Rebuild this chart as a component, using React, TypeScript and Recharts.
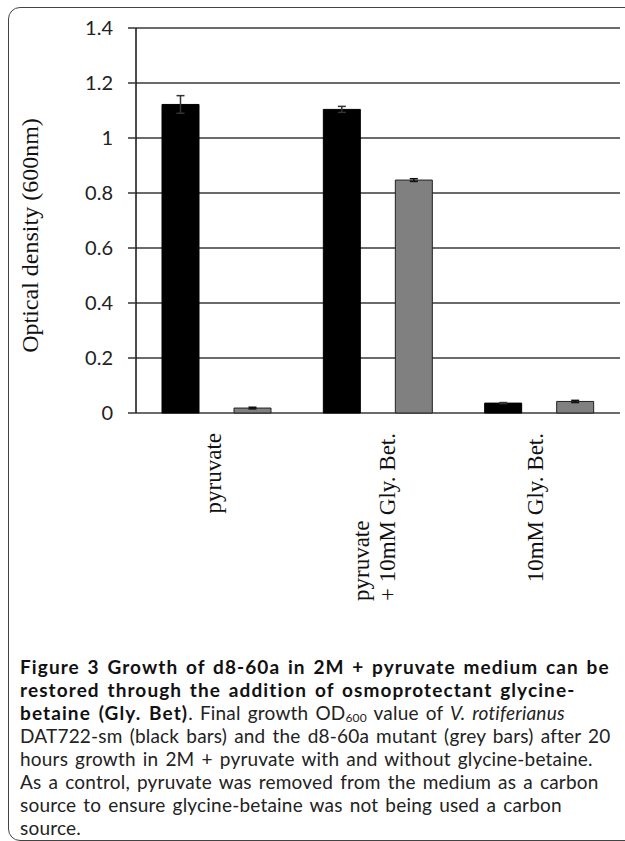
import { BarChart, Bar, XAxis, YAxis, CartesianGrid, ErrorBar } from "recharts";

// category labels, one entry per printed line
const categories = [["pyruvate"], ["pyruvate", "+ 10mM Gly. Bet."], ["10mM Gly. Bet."]];
// DAT722-sm (black bars)
const wildType = [1.122, 1.104, 0.036];
const wildTypeErr = [0.032, 0.011, 0.002];
// d8-60a mutant (grey bars)
const mutant = [0.018, 0.847, 0.042];
const mutantErr = [0.003, 0.005, 0.004];
const yTicks = [0, 0.2, 0.4, 0.6, 0.8, 1, 1.2, 1.4];
const edgeTicks = [0, 1, 2, 3];

const data = categories.map((lines, i) => ({
  name: lines.join("\n"),
  edge: i + 0.5,
  wt: wildType[i],
  wtErr: wildTypeErr[i],
  mut: mutant[i],
  mutErr: mutantErr[i],
}));

const SERIF = '"Liberation Serif", "Times New Roman", serif';
const LABEL_SIZE = 23;

let ctx: CanvasRenderingContext2D | null = null;
const measure = (s: string) => {
  if (!ctx) ctx = document.createElement("canvas").getContext("2d");
  if (!ctx) return s.length * LABEL_SIZE * 0.45;
  ctx.font = `${LABEL_SIZE}px "Liberation Serif"`;
  return ctx.measureText(s).width;
};

// rotated category label, lines left-aligned, block ends just under the axis
const XLabel = ({ x, y, payload }: any) => {
  const lines = String(payload.value).split("\n");
  const maxW = Math.max(...lines.map(measure));
  const lh = 26;
  return (
    <g transform={`translate(${x},${y + 20}) rotate(-90)`}>
      {lines.map((l, i) => (
        <text
          key={i}
          x={-maxW}
          y={(i - (lines.length - 1) / 2) * lh + 4}
          textAnchor="start"
          fontFamily={SERIF}
          fontSize={LABEL_SIZE}
          fill="#111"
        >
          {l}
        </text>
      ))}
    </g>
  );
};

const YTitle = ({ viewBox }: any) => {
  const vb = viewBox || { x: 0, y: 28, width: 136, height: 385 };
  const cx = vb.x + 38;
  const cy = vb.y + vb.height / 2 + 15;
  return (
    <text
      transform={`translate(${cx},${cy}) rotate(-90)`}
      textAnchor="middle"
      fontFamily={SERIF}
      fontSize={24}
      fill="#111"
    >
      Optical density (600nm)
    </text>
  );
};

const captionFont = 'Lato, "Open Sans", sans-serif';
const bold = { color: "#111", letterSpacing: "1.1px" };

export default function App() {
  return (
    <div
      style={{
        position: "fixed",
        left: 0,
        top: 0,
        width: 625,
        height: 841,
        overflow: "hidden",
        background: "#fff",
      }}
    >
      <div
        style={{
          position: "absolute",
          left: 8,
          top: 7,
          width: 660,
          height: 832,
          border: "1.5px solid #444",
          borderRadius: 12,
        }}
      />
      <div style={{ position: "absolute", left: 0, top: 0 }}>
        <BarChart
          width={625}
          height={620}
          data={data}
          margin={{ top: 28, right: 5, bottom: 7, left: 0 }}
          barSize={37}
          barGap={35}
        >
          <CartesianGrid vertical={false} stroke="#3a3a3a" strokeWidth={1.5} />
          <XAxis
            xAxisId="edge"
            type="number"
            dataKey="edge"
            domain={[0, 3]}
            ticks={edgeTicks}
            height={0}
            tick={false}
            tickSize={6}
            tickLine={{ stroke: "#444", strokeWidth: 1.2 }}
            axisLine={{ stroke: "#111", strokeWidth: 1.5 }}
          />
          <XAxis
            dataKey="name"
            height={200}
            axisLine={false}
            tickLine={false}
            tickSize={0}
            tickMargin={0}
            interval={0}
            tick={<XLabel />}
          />
          <YAxis
            domain={[0, 1.4]}
            ticks={yTicks}
            width={136}
            tickSize={8}
            tickMargin={15}
            axisLine={{ stroke: "#111", strokeWidth: 1.5 }}
            tickLine={{ stroke: "#333", strokeWidth: 1.5 }}
            tick={{ fontFamily: "Lato, Carlito, sans-serif", fontSize: 20, fill: "#222" }}
            label={<YTitle />}
          />
          <YAxis
            yAxisId="right"
            orientation="right"
            domain={[0, 1.4]}
            width={0}
            tick={false}
            tickLine={false}
            axisLine={{ stroke: "#666", strokeWidth: 1.5 }}
          />
          <Bar dataKey="wt" fill="#000" stroke="#000" isAnimationActive={false}>
            <ErrorBar dataKey="wtErr" width={4} stroke="#333" strokeWidth={1.5} direction="y" />
          </Bar>
          <Bar dataKey="mut" fill="#808080" stroke="#222" strokeWidth={1} isAnimationActive={false}>
            <ErrorBar dataKey="mutErr" width={4} stroke="#111" strokeWidth={1.5} direction="y" />
          </Bar>
        </BarChart>
      </div>
      <div
        style={{
          position: "absolute",
          left: 20,
          top: 655,
          fontFamily: captionFont,
          fontSize: 19,
          lineHeight: "23px",
          letterSpacing: "0.2px",
          wordSpacing: "2px",
          color: "#222",
          whiteSpace: "nowrap",
        }}
      >
        <b style={bold}>Figure 3 Growth of d8-60a in 2M + pyruvate medium can be</b>
        <br />
        <b style={bold}>restored through the addition of osmoprotectant glycine-</b>
        <br />
        <b style={bold}>betaine (Gly. Bet)</b>. Final growth OD
        <span style={{ fontSize: 12, verticalAlign: "-2px", lineHeight: "12px" }}>600</span> value of{" "}
        <i>V. rotiferianus</i>
        <br />
        DAT722-sm (black bars) and the d8-60a mutant (grey bars) after 20
        <br />
        hours growth in 2M + pyruvate with and without glycine-betaine.
        <br />
        As a control, pyruvate was removed from the medium as a carbon
        <br />
        source to ensure glycine-betaine was not being used a carbon
        <br />
        source.
      </div>
    </div>
  );
}
